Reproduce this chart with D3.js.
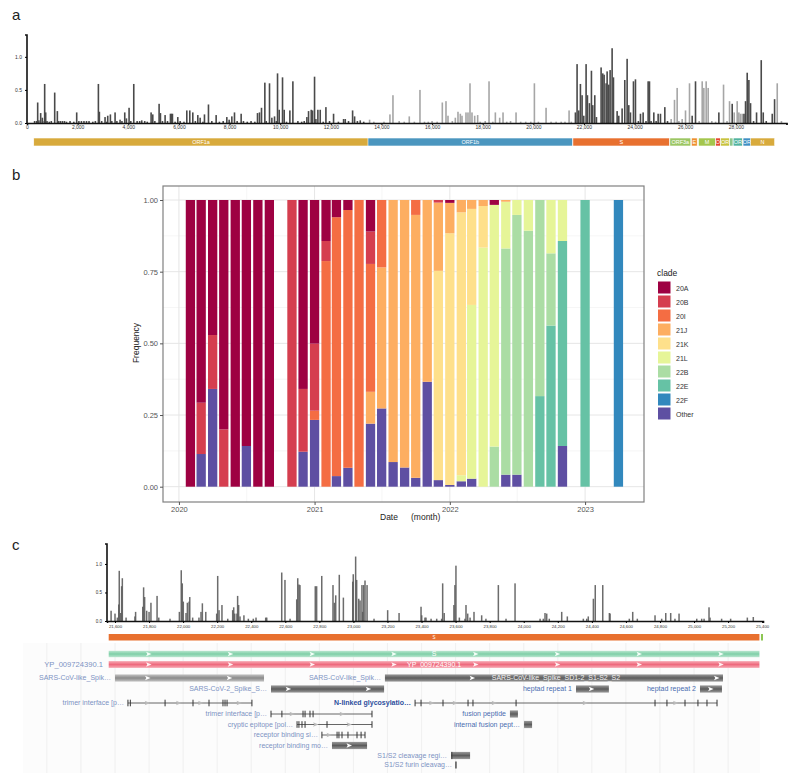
<!DOCTYPE html>
<html><head><meta charset="utf-8">
<script src="https://cdn.jsdelivr.net/npm/d3@7"></script>
<style>body{margin:0;background:#fff}svg{display:block}text{font-family:"Liberation Sans",Arial,sans-serif}</style>
</head><body>
<svg id="fig" width="800" height="782"></svg>
<script>
// ---------- Panel a data (genome-wide mutation frequency) ----------
const posA = [422,540,606,698,738,1094,1199,1963,2820,2859,3083,3189,3294,3479,3676,3861,3927,4032,4217,4533,4902,4968,5218,5271,5455,5666,5705,5745,5956,6312,6430,6549,6747,6839,7010,7168,7471,7893,7985,8091,8196,8459,9105,9184,9263,9395,9579,9672,9777,9896,9962,10093,10159,10383,10502,11055,11121,11227,11279,11358,11411,11490,11582,11807,12109,12505,12571,12861,12940,13163,13532,14336,14455,15100,15522,16405,16550,16629,16919,17024,17116,17182,17340,17419,17498,17577,17683,17801,18250,18500,18671,18803,19317,20042,20503,21412,21662,21728,21794,21860,21926,21992,22084,22137,22216,22295,22348,22427,22493,22677,22743,22796,22875,22915,22980,23033,23112,23165,23310,23375,23507,23612,23705,23771,23837,23955,24034,24232,24337,24535,24588,24759,24930,25022,25194,25444,25576,25681,25879,26011,26169,26274,26406,26670,26735,26827,26906,27328,27513,27750,27855,27934,28052,28118,28180,28250,28320,28382,28448,28514,28580,28817,29002,29081,29437,29529,29634];
const valA = [.31,.15,.08,.59,.16,.46,.18,.16,.59,.17,.09,.11,.13,.16,.05,.16,.07,.23,.59,.04,.16,.13,.29,.15,.12,.14,.14,.14,.09,.19,.19,.16,.12,.08,.13,.28,.12,.09,.05,.10,.16,.14,.15,.16,.23,.61,.60,.08,.10,.75,.20,.69,.20,.19,.63,.09,.18,.20,.19,.70,.06,.20,.20,.24,.14,.06,.06,.19,.10,.04,.05,.13,.42,.10,.50,.31,.33,.11,.08,.17,.14,.11,.16,.16,.60,.16,.11,.12,.63,.16,.08,.16,.16,.60,.23,.19,.16,.89,.19,.59,.42,.11,.89,.42,.30,.79,.27,.42,.09,.84,.75,.73,.60,.78,.58,.80,1.13,.69,.18,.11,.22,.65,.97,.27,.16,.63,.66,.14,.16,.63,.63,.16,.14,.14,.24,.06,.35,.53,.06,.19,.60,.11,.63,.63,.53,.63,.53,.16,.58,.33,.29,.16,.33,.16,.14,.14,.14,.33,.76,.65,.30,.16,.95,.16,.14,.36,.60];
const lowPosA = [300,380,470,620,790,880,960,1250,1320,1400,1480,1560,1700,1850,2050,2150,2250,2350,2450,2600,2700,2950,3150,3350,3550,3750,4100,4350,4450,4650,4750,5050,5350,5550,5850,6050,6200,6650,6950,7300,7600,7750,8000,8300,8550,8700,8850,9000,9450,9850,10250,10700,10850,10950,11700,11950,12300,12700,13050,13300,13700,14100,14700,14900,15300,15700,15850,16000,16200,16800,17900,18100,18400,18950,19100,19500,19700,19900,20200,20700,20900,21100,21250,21500,24150,24450,24650,24850,25300,25750,26550,27050,27200,27650,28700,29200,29800];
const lowValA = [.03,.03,.04,.03,.03,.02,.03,.03,.03,.03,.03,.02,.03,.02,.03,.03,.03,.03,.03,.02,.03,.03,.02,.03,.03,.03,.03,.03,.03,.03,.02,.03,.03,.03,.02,.03,.02,.03,.02,.03,.02,.03,.02,.03,.03,.02,.03,.02,.03,.03,.02,.03,.02,.03,.02,.03,.02,.03,.03,.02,.02,.02,.03,.02,.02,.02,.02,.03,.02,.03,.02,.03,.02,.02,.03,.02,.02,.02,.02,.02,.02,.02,.02,.02,.03,.03,.03,.03,.03,.03,.03,.03,.02,.03,.03,.03,.03];
const geneNames = ["ORF1a","ORF1b","S","ORF3a","E","M","ORF6","ORF7a","ORF7b","ORF8","N","ORF9b"];
const geneStart = [266,13468,21563,25393,26245,26523,27202,27394,27756,27894,28274,28284];
const geneEnd   = [13483,21555,25384,26220,26472,27191,27387,27759,27887,28259,29533,28577];
const geneColors = ["#d8aa3c","#4b96bf","#e8702f","#9cc663","#ee8e2e","#a4c64d","#e4462f","#c8c23e","#8cc68c","#52b39f","#d8aa3c","#3f8fc4"];
const xTicksA = [0,2000,4000,6000,8000,10000,12000,14000,16000,18000,20000,22000,24000,26000,28000,30000];
const yTicksA = [0,0.5,1.0];

// ---------- Panel b data (clade frequency by month) ----------
const months = ["2020-02","2020-03","2020-04","2020-05","2020-06","2020-07","2020-08","2020-09","2020-11","2020-12","2021-01","2021-02","2021-03","2021-04","2021-05","2021-06","2021-07","2021-08","2021-09","2021-10","2021-11","2021-12","2022-01","2022-02","2022-03","2022-04","2022-05","2022-06","2022-07","2022-08","2022-09","2022-10","2022-11","2023-01","2023-04"];
const clade20A = [1,.707,.471,.8,1,.858,1,1,0,.659,.501,.143,.06,.035,0,.11,0,0,0,0,0,0,.01,0,0,0,.017,0,0,0,0,0,0,0,0];
const clade20B = [0,.179,.188,.2,0,0,0,0,1,.219,.234,.07,0,0,0,.113,0,0,0,0,0,.009,0,0,0,0,0,0,0,0,0,0,0,0,0];
const clade20I = [0,0,0,0,0,0,0,0,0,0,.032,.787,.903,.899,1,.446,.235,0,0,.052,0,0,0,0,0,0,0,0,0,0,0,0,0,0,0];
const clade21J = [0,0,0,0,0,0,0,0,0,0,0,0,0,0,0,.111,.492,.914,.933,.917,.634,.238,.106,.043,.031,.021,0,.006,0,0,0,0,0,0,0];
const clade21K = [0,0,0,0,0,0,0,0,0,0,0,0,0,0,0,0,0,0,0,0,0,.73,.878,.917,.335,.145,0,0,0,0,0,0,0,0,0];
const clade21L = [0,0,0,0,0,0,0,0,0,0,0,0,0,0,0,0,0,0,0,0,0,0,0,.021,.606,.834,.843,.163,.052,.107,0,.186,.143,0,0];
const clade22B = [0,0,0,0,0,0,0,0,0,0,0,0,0,0,0,0,0,0,0,0,0,0,0,0,0,0,.14,.789,.906,.893,.684,.252,0,0,0];
const clade22E = [0,0,0,0,0,0,0,0,0,0,0,0,0,0,0,0,0,0,0,0,0,0,0,0,0,0,0,0,0,0,.316,.562,.715,1,0];
const clade22F = [0,0,0,0,0,0,0,0,0,0,0,0,0,0,0,0,0,0,0,0,0,0,0,0,0,0,0,0,0,0,0,0,0,0,1];
const cladeOther = [0,.114,.341,0,0,.142,0,0,0,.122,.233,0,.037,.066,0,.22,.273,.086,.067,.031,.366,.023,.006,.019,.028,0,0,.042,.042,0,0,0,.142,0,0];
const cladeNames = ["20A","20B","20I","21J","21K","21L","22B","22E","22F","Other"];
const cladeColors = ["#9e0142","#d53e4f","#f46d43","#fdae61","#fee08b","#e6f598","#abdda4","#66c2a5","#3288bd","#5e4fa2"];
const yTicksB = [0,0.25,0.5,0.75,1];
const yearTicks = ["2020","2021","2022","2023"];

// ---------- Panel c data (spike region) ----------
const posC = [21577,21600,21614,21622,21625,21633,21639,21643,21665,21717,21721,21763,21768,21774,21786,21800,21811,21847,21857,21923,21978,21989,21995,22001,22017,22025,22035,22039,22056,22093,22105,22113,22133,22197,22203,22211,22228,22262,22291,22297,22303,22316,22320,22326,22334,22357,22383,22412,22428,22485,22491,22579,22598,22628,22667,22673,22680,22686,22776,22784,22814,22880,22888,22896,22917,22941,22996,22999,23013,23019,23031,23039,23050,23054,23060,23068,23080,23121,23201,23268,23397,23401,23420,23426,23456,23489,23518,23524,23533,23590,23596,23602,23622,23655,23661,23671,23685,23708,23753,23778,23851,23896,23949,24096,24115,24125,24135,24150,24223,24256,24350,24370,24379,24409,24420,24464,24503,24507,24620,24640,24667,24771,24810,24834,24863,24888,24912,25016,25045,25059,25088,25094,25162,25215,25313,25348];
const valC = [.18,.13,.06,.29,.88,.14,.61,.75,.06,.08,.16,.25,.59,.42,.18,.16,.32,.44,.06,.04,.16,.89,.66,.34,.14,.32,.34,.42,.06,.06,.16,.31,.16,.13,.79,.19,.28,.04,.19,.24,.13,.13,.44,.28,.08,.10,.04,.04,.06,.06,.06,.85,.72,.04,.38,.75,.64,.63,.61,.61,.79,.63,.32,.45,.81,.41,.69,.82,1.13,.72,.39,.36,.63,.16,.63,.71,.63,.04,.19,.14,.25,.10,.06,.06,.04,.04,.04,.66,.14,.28,.63,.97,.06,.04,.28,.13,.06,.16,.10,.04,.63,.04,.66,.04,.04,.14,.13,.04,.16,.08,.04,.04,.08,.39,.63,.63,.14,.13,.04,.16,.04,.10,.04,.14,.14,.04,.13,.04,.04,.04,.24,.06,.04,.04,.06,.07];
const xTicksC = [21600,21800,22000,22200,22400,22600,22800,23000,23200,23400,23600,23800,24000,24200,24400,24600,24800,25000,25200,25400];
const yTicksC = [0,0.5,1.0];
// genome browser features
const featLabels = ["SARS-CoV-like_Spik…","SARS-CoV-like_Spik…","SARS-CoV-2_Spike_S…","heptad repeat 1","heptad repeat 2","trimer interface [p…","N-linked glycosylatio…","trimer interface [p…","cryptic epitope [pol…","receptor binding si…","receptor binding mo…","fusion peptide","internal fusion pept…","S1/S2 cleavage regi…","S1/S2 furin cleavag…"];
const featStart = [21600,23185,22516,24307,25035,21676,23362,22516,22669,22815,22874,23919,24002,23573,23602];
const featEnd   = [22475,25170,23180,24500,25164,22404,25135,23109,23109,23068,23080,23966,24049,23685,23603];
const featRow   = [3,3,4,4,4,5,5,6,7,8,9,6,7,10,11];
const featType  = ["bar","bar2","bar2","bar2","bar2","line","line","line","line","line","bar2","bar2","bar2","bar2","tick"];
const featTicks = [[],[],[],[],[],[21676,21690,21894,22058,22152,22234,22246,22258,22404],[23362,23397,23526,23673,23702,23955,24771,24841,24947,25023,25076,25135],[22516,22580,22704,22716,22745,22763,23109],[22669,22680,22698,22716,22845,23109],[22815,22904,22915,22933,22968,23021,23045,23068],[],[],[],[23578],[]];
const featArrows = [[21794,22274],[23700,25135],[22620,23090],[24400],[25100],[],[],[],[],[],[22977],[],[],[],[]];

const svg = d3.select("#fig");
svg.append("rect").attr("width",800).attr("height",782).attr("fill","#fff");
const defs = svg.append("defs");
function vgrad(id, c1, c2){
  const g = defs.append("linearGradient").attr("id",id).attr("x1",0).attr("x2",0).attr("y1",0).attr("y2",1);
  g.append("stop").attr("offset","0%").attr("stop-color",c1);
  g.append("stop").attr("offset","50%").attr("stop-color",c2);
  g.append("stop").attr("offset","100%").attr("stop-color",c1);
}
vgrad("gGreen","#b9e6cf","#7fcfa7");
vgrad("gPink","#f7aab4","#ee6b7e");
vgrad("gGrayL","#c4c4c4","#8a8a8a");
vgrad("gGrayD","#9a9a9a","#5c5c5c");

// panel letters
[["a",12,20],["b",12,180],["c",12,550]].forEach(([t,x,y])=>svg.append("text").attr("x",x).attr("y",y).attr("font-size",15).attr("fill","#222").text(t));

// ================= Panel a =================
const xA = d3.scaleLinear().domain([0,30000]).range([27,786.5]);
const yA = d3.scaleLinear().domain([0,1.33]).range([123,35]);
const gA = svg.append("g");
function geneIdx(p){ for(let i=0;i<11;i++){ if(p>=geneStart[i]&&p<=geneEnd[i]) return i;} return 1; }
const allA = lowPosA.map((p,i)=>({p,v:lowValA[i]})).concat(posA.map((p,i)=>({p,v:valA[i]})));
gA.selectAll("rect.ba").data(allA).join("rect")
  .attr("x",d=>xA(d.p)-0.8).attr("width",1.6)
  .attr("y",d=>yA(d.v)).attr("height",d=>yA(0)-yA(d.v))
  .attr("fill",d=>geneIdx(d.p)%2===0?"#4a4a4a":"#a6a6a6");
const axA = gA.append("g").attr("transform","translate(0,123)")
  .call(d3.axisBottom(xA).tickValues(xTicksA).tickSize(2).tickFormat(d=>d===30000?"":d3.format(",")(d)));
axA.select(".domain").attr("stroke","#111").attr("stroke-width",1.6);
axA.selectAll(".tick line").attr("stroke","#111").attr("stroke-width",1);
axA.selectAll("text").attr("font-size",5).attr("fill","#333").attr("dy","0.3em").attr("y",4);
const ayA = gA.append("g").attr("transform","translate(27,0)")
  .call(d3.axisLeft(yA).tickValues(yTicksA).tickSize(2).tickFormat(d3.format(".1f")));
ayA.select(".domain").attr("stroke","#111").attr("stroke-width",1.6).attr("d","M-2,35H0V123");
ayA.selectAll("text").attr("font-size",5).attr("fill","#333");
// gene bar
const gGenes = gA.append("g");
const lblFs = 5.5, chW = lblFs*0.58;
geneNames.forEach((n,i)=>{
  const x0 = xA(geneStart[i]), x1 = xA(geneEnd[i]);
  gGenes.append("rect").attr("x",x0).attr("y",138).attr("width",x1-x0).attr("height",8)
    .attr("fill",geneColors[i]).attr("stroke","#fff").attr("stroke-width",0.6);
});
geneNames.forEach((n,i)=>{
  let x0 = xA(geneStart[i]), x1 = xA(geneEnd[i]);
  if(n==="N") x0 = xA(geneEnd[11]);           // N label sits right of the overlapping ORF9b
  const nChar = Math.floor((x1-x0-0.5)/chW);
  if(nChar<1) return;
  gGenes.append("text").attr("x",(x0+x1)/2).attr("y",144.2)
    .attr("text-anchor","middle").attr("font-size",lblFs).attr("fill","#fff").text(n.slice(0,nChar));
});

// ================= Panel b =================
const parse = d3.utcParse("%Y-%m");
const xB = d3.scaleUtc().domain([new Date(Date.UTC(2019,10,19)), new Date(Date.UTC(2023,5,9))]).range([163,644]);
const yB = d3.scaleLinear().domain([0,1]).range([486.7,200]);
const gB = svg.append("g");
gB.append("rect").attr("x",163).attr("y",186).attr("width",481).attr("height",316).attr("fill","#fff");
[0.125,0.375,0.625,0.875].forEach(v=>gB.append("line").attr("x1",163).attr("x2",644).attr("y1",yB(v)).attr("y2",yB(v)).attr("stroke","#f0f0f0").attr("stroke-width",0.6));
["2020-07","2021-07","2022-07"].forEach(m=>{const x=xB(d3.utcDay.offset(parse(m),1)); gB.append("line").attr("x1",x).attr("x2",x).attr("y1",186).attr("y2",502).attr("stroke","#f0f0f0").attr("stroke-width",0.6);});
yTicksB.forEach(v=>gB.append("line").attr("x1",163).attr("x2",644).attr("y1",yB(v)).attr("y2",yB(v)).attr("stroke","#e6e6e6").attr("stroke-width",1));
yearTicks.forEach(y=>{const x=xB(d3.utcParse("%Y")(y)); gB.append("line").attr("x1",x).attr("x2",x).attr("y1",186).attr("y2",502).attr("stroke","#e6e6e6").attr("stroke-width",1);});
const cladeArrays = {"20A":clade20A,"20B":clade20B,"20I":clade20I,"21J":clade21J,"21K":clade21K,"21L":clade21L,"22B":clade22B,"22E":clade22E,"22F":clade22F,"Other":cladeOther};
const table = months.map((m,i)=>{const o={month:parse(m)}; cladeNames.forEach(c=>o[c]=cladeArrays[c][i]); return o;});
const stackKeys = cladeNames.slice().reverse();
const series = d3.stack().keys(stackKeys)(table);
const colorB = d3.scaleOrdinal().domain(cladeNames).range(cladeColors);
const bw = 9.3;
gB.selectAll("g.s").data(series).join("g").attr("fill",d=>colorB(d.key))
  .selectAll("rect").data(d=>d.filter(e=>e[1]-e[0]>0)).join("rect")
  .attr("x",d=>xB(d.data.month)-bw/2).attr("width",bw)
  .attr("y",d=>yB(d[1])).attr("height",d=>yB(d[0])-yB(d[1]));
gB.append("rect").attr("x",163).attr("y",186).attr("width",481).attr("height",316).attr("fill","none").attr("stroke","#808080").attr("stroke-width",1.2);
const ayB = gB.append("g").attr("transform","translate(163,0)").call(d3.axisLeft(yB).tickValues(yTicksB).tickSize(3).tickFormat(d3.format(".2f")));
ayB.select(".domain").remove();
ayB.selectAll(".tick line").attr("stroke","#555");
ayB.selectAll("text").attr("font-size",7.5).attr("fill","#555").attr("x",-5);
const axB = gB.append("g").attr("transform","translate(0,502)").call(d3.axisBottom(xB).tickValues(yearTicks.map(y=>d3.utcParse("%Y")(y))).tickSize(3).tickFormat(d3.utcFormat("%Y")));
axB.select(".domain").remove();
axB.selectAll(".tick line").attr("stroke","#555");
axB.selectAll("text").attr("font-size",7.5).attr("fill","#555").attr("y",5);
gB.append("text").attr("transform","translate(139,343) rotate(-90)").attr("text-anchor","middle").attr("font-size",8.5).attr("fill","#222").text("Frequency");
gB.append("text").attr("x",380).attr("y",520).attr("font-size",8.5).attr("fill","#222").text("Date");
gB.append("text").attr("x",411).attr("y",520).attr("font-size",8.5).attr("fill","#222").text("(month)");
const lg = gB.append("g");
lg.append("text").attr("x",657).attr("y",276).attr("font-size",8.5).attr("fill","#222").text("clade");
cladeNames.forEach((c,i)=>{
  lg.append("rect").attr("x",658).attr("y",281.5+i*14).attr("width",12.5).attr("height",12).attr("fill",cladeColors[i]);
  lg.append("text").attr("x",676).attr("y",290.5+i*14).attr("font-size",7).attr("fill","#333").text(c);
});

// ================= Panel c =================
const xC = d3.scaleLinear().domain([21553,25405]).range([107,763]);
const yC = d3.scaleLinear().domain([0,1.35]).range([621,544]);
const gC = svg.append("g");
gC.selectAll("rect.bc").data(posC.map((p,i)=>({p,v:valC[i]}))).join("rect")
  .attr("x",d=>xC(d.p)-0.75).attr("width",1.5)
  .attr("y",d=>yC(d.v)).attr("height",d=>yC(0)-yC(d.v)).attr("fill","#5c5c5c").attr("fill-opacity",0.9);
const axC = gC.append("g").attr("transform","translate(0,621)")
  .call(d3.axisBottom(xC).tickValues(xTicksC).tickSize(2).tickFormat(d3.format(",")));
axC.select(".domain").attr("stroke","#111").attr("stroke-width",1.6);
axC.selectAll("text").attr("font-size",4.3).attr("fill","#333").attr("y",4);
const ayC = gC.append("g").attr("transform","translate(107,0)")
  .call(d3.axisLeft(yC).tickValues(yTicksC).tickSize(2).tickFormat(d3.format(".1f")));
ayC.select(".domain").attr("stroke","#111").attr("stroke-width",1.6).attr("d","M-2,544H0V621");
ayC.selectAll("text").attr("font-size",4.5).attr("fill","#333");
gC.append("rect").attr("x",xC(geneStart[2])).attr("y",634).attr("width",xC(geneEnd[2])-xC(geneStart[2])).attr("height",6.5).attr("fill","#e8702f");
gC.append("rect").attr("x",xC(geneStart[3])).attr("y",634).attr("width",xC(25405)-xC(geneStart[3])).attr("height",6.5).attr("fill","#8cc653");
gC.append("text").attr("x",(xC(geneStart[2])+xC(geneEnd[2]))/2).attr("y",639.3).attr("text-anchor","middle").attr("font-size",4.5).attr("fill","#fff").text("S");

// genome browser
const gG = svg.append("g");
gG.append("rect").attr("x",23).attr("y",643).attr("width",737).attr("height",130).attr("fill","#fcfcfc");
d3.range(21200,25401,200).forEach(p=>{const x=xC(p); if(x>23&&x<760) gG.append("line").attr("x1",x).attr("x2",x).attr("y1",643).attr("y2",773).attr("stroke","#ececec").attr("stroke-width",0.8);});
const rowY = {1:654,2:664.5,3:678,4:689,5:703,6:714,7:724.5,8:735,9:745.5,10:755.5,11:765};
function arrow(g,x,y,col){ g.append("path").attr("d",`M${x-3},${y-2.2}L${x+2.5},${y}L${x-3},${y+2.2}L${x-1.8},${y}Z`).attr("fill",col); }
function label(txt,xEnd,y,opts={}){
  return gG.append("text").attr("x",xEnd).attr("y",y+2.4).attr("text-anchor","end").attr("font-size",opts.size||7)
    .attr("font-family","'DejaVu Sans Mono',monospace").attr("font-weight",opts.bold?"bold":"normal")
    .attr("fill",opts.col||"#7d93c3").text(txt);
}
const sx0 = xC(geneStart[2]), sx1 = xC(geneEnd[2]);
gG.append("rect").attr("x",sx0).attr("y",rowY[1]-3.2).attr("width",sx1-sx0).attr("height",6.4).attr("fill","url(#gGreen)");
gG.append("rect").attr("x",sx0).attr("y",rowY[2]-3.4).attr("width",sx1-sx0).attr("height",6.8).attr("fill","url(#gPink)");
d3.range(21800,25384,480).forEach(p=>{arrow(gG,xC(p),rowY[1],"#f4fff8"); arrow(gG,xC(p),rowY[2],"#fff3f4");});
gG.append("text").attr("x",(sx0+sx1)/2).attr("y",rowY[1]+2.4).attr("text-anchor","middle").attr("font-size",7).attr("font-family","'DejaVu Sans Mono',monospace").attr("fill","#fff").text("S");
gG.append("text").attr("x",(sx0+sx1)/2).attr("y",rowY[2]+2.5).attr("text-anchor","middle").attr("font-size",7).attr("font-family","'DejaVu Sans Mono',monospace").attr("fill","#fff").text("YP_009724390.1");
label("YP_009724390.1",103,rowY[2],{size:7.6});
featLabels.forEach((t,i)=>{
  const x0 = xC(featStart[i]), x1 = xC(featEnd[i]), y = rowY[featRow[i]];
  const dark = (t.startsWith("heptad")||t.startsWith("fusion")||t.startsWith("internal"));
  if(t.startsWith("N-linked")) label(t,x0-4,y,{bold:true,col:"#2d4f9c"});
  else label(t,x0-4,y,{col: dark?"#4a6cb0":"#7d93c3"});
  const ty = featType[i];
  if(ty==="bar"||ty==="bar2"){
    gG.append("rect").attr("x",x0).attr("y",y-3.6).attr("width",Math.max(x1-x0,2)).attr("height",7.2).attr("fill",ty==="bar"?"url(#gGrayL)":"url(#gGrayD)");
    featArrows[i].forEach(p=>arrow(gG,xC(p),y,"#fff"));
    featTicks[i].forEach(p=>gG.append("line").attr("x1",xC(p)).attr("x2",xC(p)).attr("y1",y-3.6).attr("y2",y+3.6).attr("stroke","#333").attr("stroke-width",0.8));
  } else if(ty==="line"){
    gG.append("line").attr("x1",x0).attr("x2",x1).attr("y1",y).attr("y2",y).attr("stroke","#555").attr("stroke-width",0.9);
    for(let k=0;k<featTicks[i].length-1;k++){
      const a=xC(featTicks[i][k]), b=xC(featTicks[i][k+1]);
      if(b-a>14) arrow(gG,(a+b)/2,y,"#bbb");
    }
    featTicks[i].forEach(p=>gG.append("line").attr("x1",xC(p)).attr("x2",xC(p)).attr("y1",y-3.3).attr("y2",y+3.3).attr("stroke","#333").attr("stroke-width",1));
  } else {
    gG.append("line").attr("x1",x0).attr("x2",x0).attr("y1",y-3.6).attr("y2",y+3.6).attr("stroke","#444").attr("stroke-width",1.4);
  }
});
gG.append("text").attr("x",(xC(featStart[1])+xC(featEnd[1]))/2+2).attr("y",rowY[3]+2.4).attr("text-anchor","middle").attr("font-size",7).attr("font-family","'DejaVu Sans Mono',monospace").attr("fill","#f2f2f2").text("SARS-CoV-like_Spike_SD1-2_S1-S2_S2");
</script>
</body></html>
